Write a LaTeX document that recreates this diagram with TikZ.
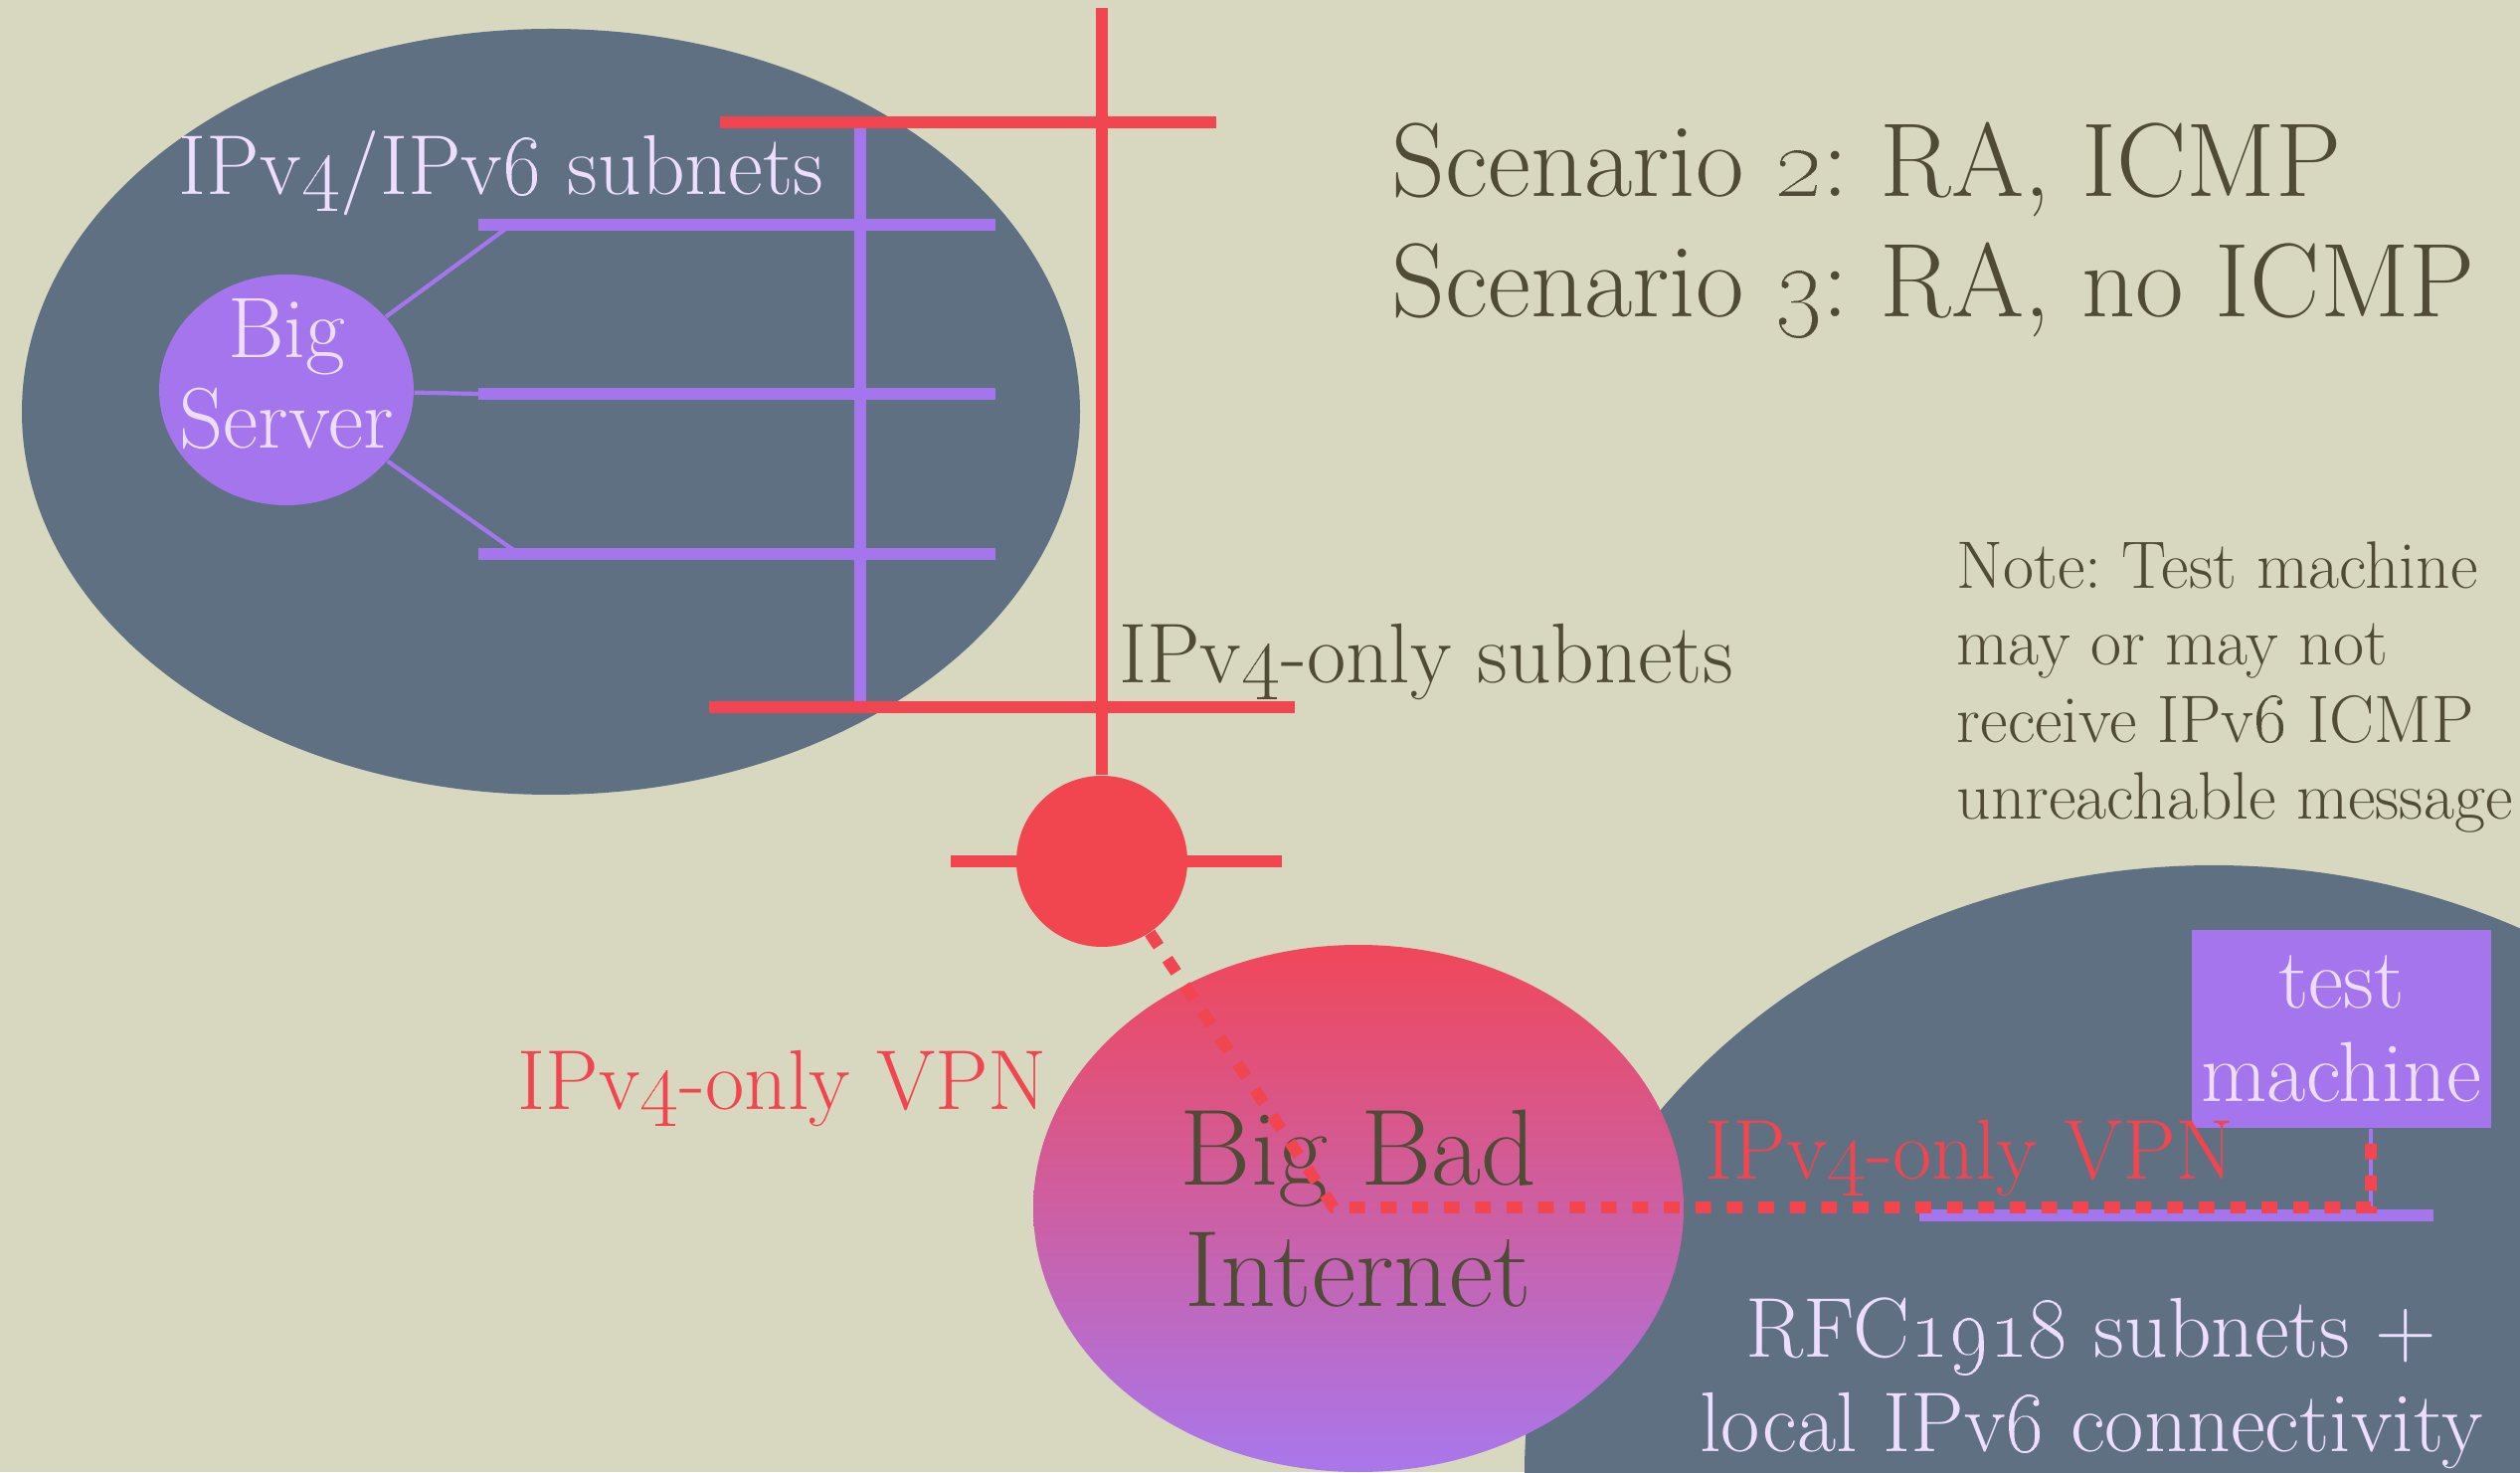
\documentclass[tikz,border=0pt]{standalone}
\usepackage{xcolor}
\usepackage{tikz}
\usetikzlibrary{positioning, shapes.geometric, calc}
\definecolor{paper}{HTML}{D8D8C0}
\definecolor{slate}{HTML}{5E7081}
\definecolor{vpnred}{HTML}{F1454F}
\definecolor{lilac}{HTML}{A575EE}
\definecolor{pale}{HTML}{EEDDFF}
\definecolor{ink}{HTML}{4F4B36}
\definecolor{netred}{HTML}{F0475A}
\definecolor{netlilac}{HTML}{A977EC}
\newcommand{\osn}[1]{\oldstylenums{#1}}
\frenchspacing
\tikzset{
  site/.style   = {ellipse, fill=slate, inner sep=0pt},
  srv/.style    = {ellipse, fill=lilac, minimum width=2.56cm, minimum height=2.32cm,
                  inner sep=0pt},
  srvtext/.style= {inner sep=0pt, align=center, text=pale,
                  font=\fontsize{24.6}{26}\selectfont},
  cloud/.style  = {ellipse, top color=netred, bottom color=netlilac, minimum width=6.54cm,
                  minimum height=5.3cm, inner sep=0pt, align=center, text=ink,
                  font=\fontsize{31}{34.5}\selectfont},
  rtr/.style    = {circle, fill=vpnred, minimum size=1.72cm, inner sep=0pt},
  host/.style   = {rectangle, fill=lilac, minimum width=3.01cm, minimum height=1.99cm,
                  inner sep=0pt, align=center, text=pale, font=\fontsize{24.4}{26.7}\selectfont},
  lbl/.style    = {inner sep=0pt, font=\fontsize{24.3}{27}\selectfont},
  redbus/.style = {draw=vpnred, line width=3.5pt},
  lanbus/.style = {draw=lilac, line width=3.4pt},
  tap/.style    = {draw=lilac, line width=1.2pt},
  vpn/.style    = {draw=vpnred, line width=3.4pt, dash pattern=on 4.5pt off 4.5pt},
}

\begin{document}
\begin{tikzpicture}

  \useasboundingbox (0,0) rectangle (25.34,14.80);
  \clip (0,0) rectangle (25.34,14.80);
  \fill[paper] (0,0) rectangle (25.34,14.80);

  % Sites
  \node[site, minimum width=10.64cm, minimum height=7.7cm] (core) at (5.54,10.66) {};
  \node[site, minimum width=13.86cm, minimum height=12.2cm] (home) at (22.26,0) {};

  % Dual-stack subnets inside the core site
  \node[srv] (server) at (2.88,10.88) {};
  \node[srvtext] (servername) at ([yshift=0.16cm]server.center) {Big\\Server};
  \coordinate (t1) at (5.14,12.54);
  \coordinate (t2) at (4.81,10.84);
  \coordinate (t3) at (5.22,9.23);
  \draw[tap] (server) -- (t1);
  \draw[tap] (server) -- (t2);
  \draw[tap] (server) -- (t3);
  \draw[lanbus] (4.81,12.54) -- (10.01,12.54);
  \draw[lanbus] (4.81,10.84) -- (10.01,10.84);
  \draw[lanbus] (4.81,9.23)  -- (10.01,9.23);
  \draw[lanbus] (8.65,13.57) -- (8.65,7.69);
  \node[lbl, text=pale, anchor=base] (dual) at (5.04,12.84) {IPv\osn{4}/IPv\osn{6} subnets};

  % IPv4-only backbone and router
  \node[rtr] (router) at (11.08,6.14) {};
  \coordinate (mast) at (11.08,14.72);
  \draw[redbus] (mast) -- (router);
  \draw[redbus] (7.24,13.57) -- (12.23,13.57);
  \draw[redbus] (7.13,7.69)  -- (13.02,7.69);
  \draw[redbus] ([xshift=-1.52cm]router.center) -- ([xshift=1.81cm]router.center);
  \node[lbl, text=ink, anchor=base] (v4sub) at (14.34,7.93) {IPv\osn{4}-only subnets};

  % Internet and test machine
  \node[cloud] (inet) at (13.66,2.65) {Big Bad\\Internet};
  \node[host] (test) at (23.545,4.455) {test\\machine};
  \coordinate (bend) at (13.41,2.66);
  \coordinate (drop) at (23.84,2.66);
  \coordinate (ll) at (19.30,2.58);
  \coordinate (lr) at (24.47,2.58);
  \draw[lanbus] (ll) -- (lr);
  \draw[tap] (test.south -| drop) -- (drop |- ll);
  \draw[vpn] (router) -- (bend) -- (drop) -- (drop |- test.south);

  % Labels
  \node[lbl, text=vpnred, anchor=base] (vpnl) at (7.87,3.65) {IPv\osn{4}-only VPN};
  \node[lbl, text=vpnred, anchor=base] (vpnr) at (19.81,2.95) {IPv\osn{4}-only VPN};
  \node[lbl, text=pale, align=center] (rfc) at (21.03,0.89)
       {RFC\osn{1918} subnets +\\local IPv\osn{6} connectivity};
  \node[inner sep=0pt, anchor=north west, align=left, text=ink,
        font=\fontsize{30}{34.6}\selectfont] (scen) at (13.99,13.58)
       {Scenario \osn{2}: RA, ICMP\\Scenario \osn{3}: RA, no ICMP};
  \node[inner sep=0pt, anchor=north west, align=left, text=ink,
        font=\fontsize{19.2}{22}\selectfont] (note) at (19.67,9.36)
       {Note: Test machine\\may or may not\\receive IPv\osn{6} ICMP\\unreachable message};

\end{tikzpicture}
\end{document}
